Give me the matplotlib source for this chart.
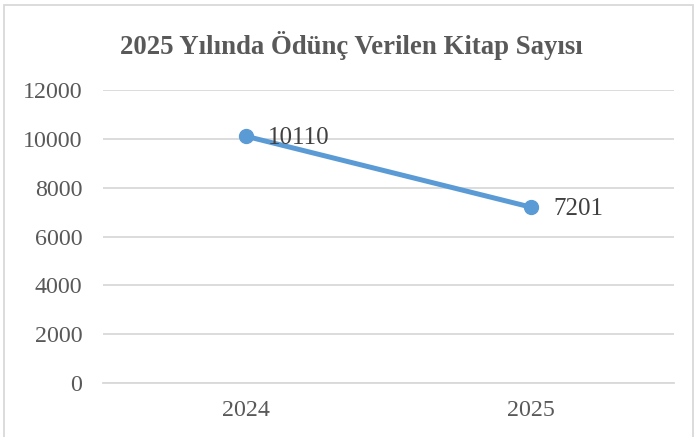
import matplotlib.pyplot as plt
from matplotlib.patches import Rectangle

years = ['2024', '2025']
books = [10110, 7201]
y_ticks = [0, 2000, 4000, 6000, 8000, 10000, 12000]

plt.rcParams['font.family'] = ['Liberation Serif', 'DejaVu Serif']

fig = plt.figure(figsize=(6.96, 4.37), dpi=100)
ax = fig.add_axes([0.148, 0.1236, 0.82, 0.6704])

x = range(len(years))
ax.plot(x, books, color='#5B9BD5', linewidth=3.6, marker='o', markersize=10,
        solid_capstyle='round')

# data labels to the right of each point
for xi, val in zip(x, books):
    ax.annotate(str(val), (xi, val), xytext=(16, -1), textcoords='offset points',
                ha='left', va='center', fontsize=18, color='#404040')

ax.set_xlim(-0.5, len(years) - 0.5)
ax.set_ylim(0, 12000)
ax.set_xticks(list(x))
ax.set_xticklabels(years)
ax.set_yticks(y_ticks)
ax.tick_params(axis='both', length=0, labelsize=17.3, labelcolor='#595959')
ax.tick_params(axis='y', pad=15)
ax.tick_params(axis='x', pad=12)

ax.grid(axis='y', color='#D9D9D9', linewidth=1.3)
ax.set_axisbelow(True)
for side in ['top', 'right', 'left']:
    ax.spines[side].set_visible(False)
ax.spines['bottom'].set_color('#D9D9D9')
ax.spines['bottom'].set_linewidth(1.3)

fig.text(0.505, 0.895, '2025 Yılında Ödünç Verilen Kitap Sayısı', ha='center', va='center',
         fontsize=19.3, fontweight='bold', color='#595959')

# outer chart border
fig.patches.append(Rectangle((0.006, -0.01), 0.99, 0.998, transform=fig.transFigure,
                             fill=False, edgecolor='#D9D9D9', linewidth=1.3))

fig.savefig('out.png', dpi=100)
